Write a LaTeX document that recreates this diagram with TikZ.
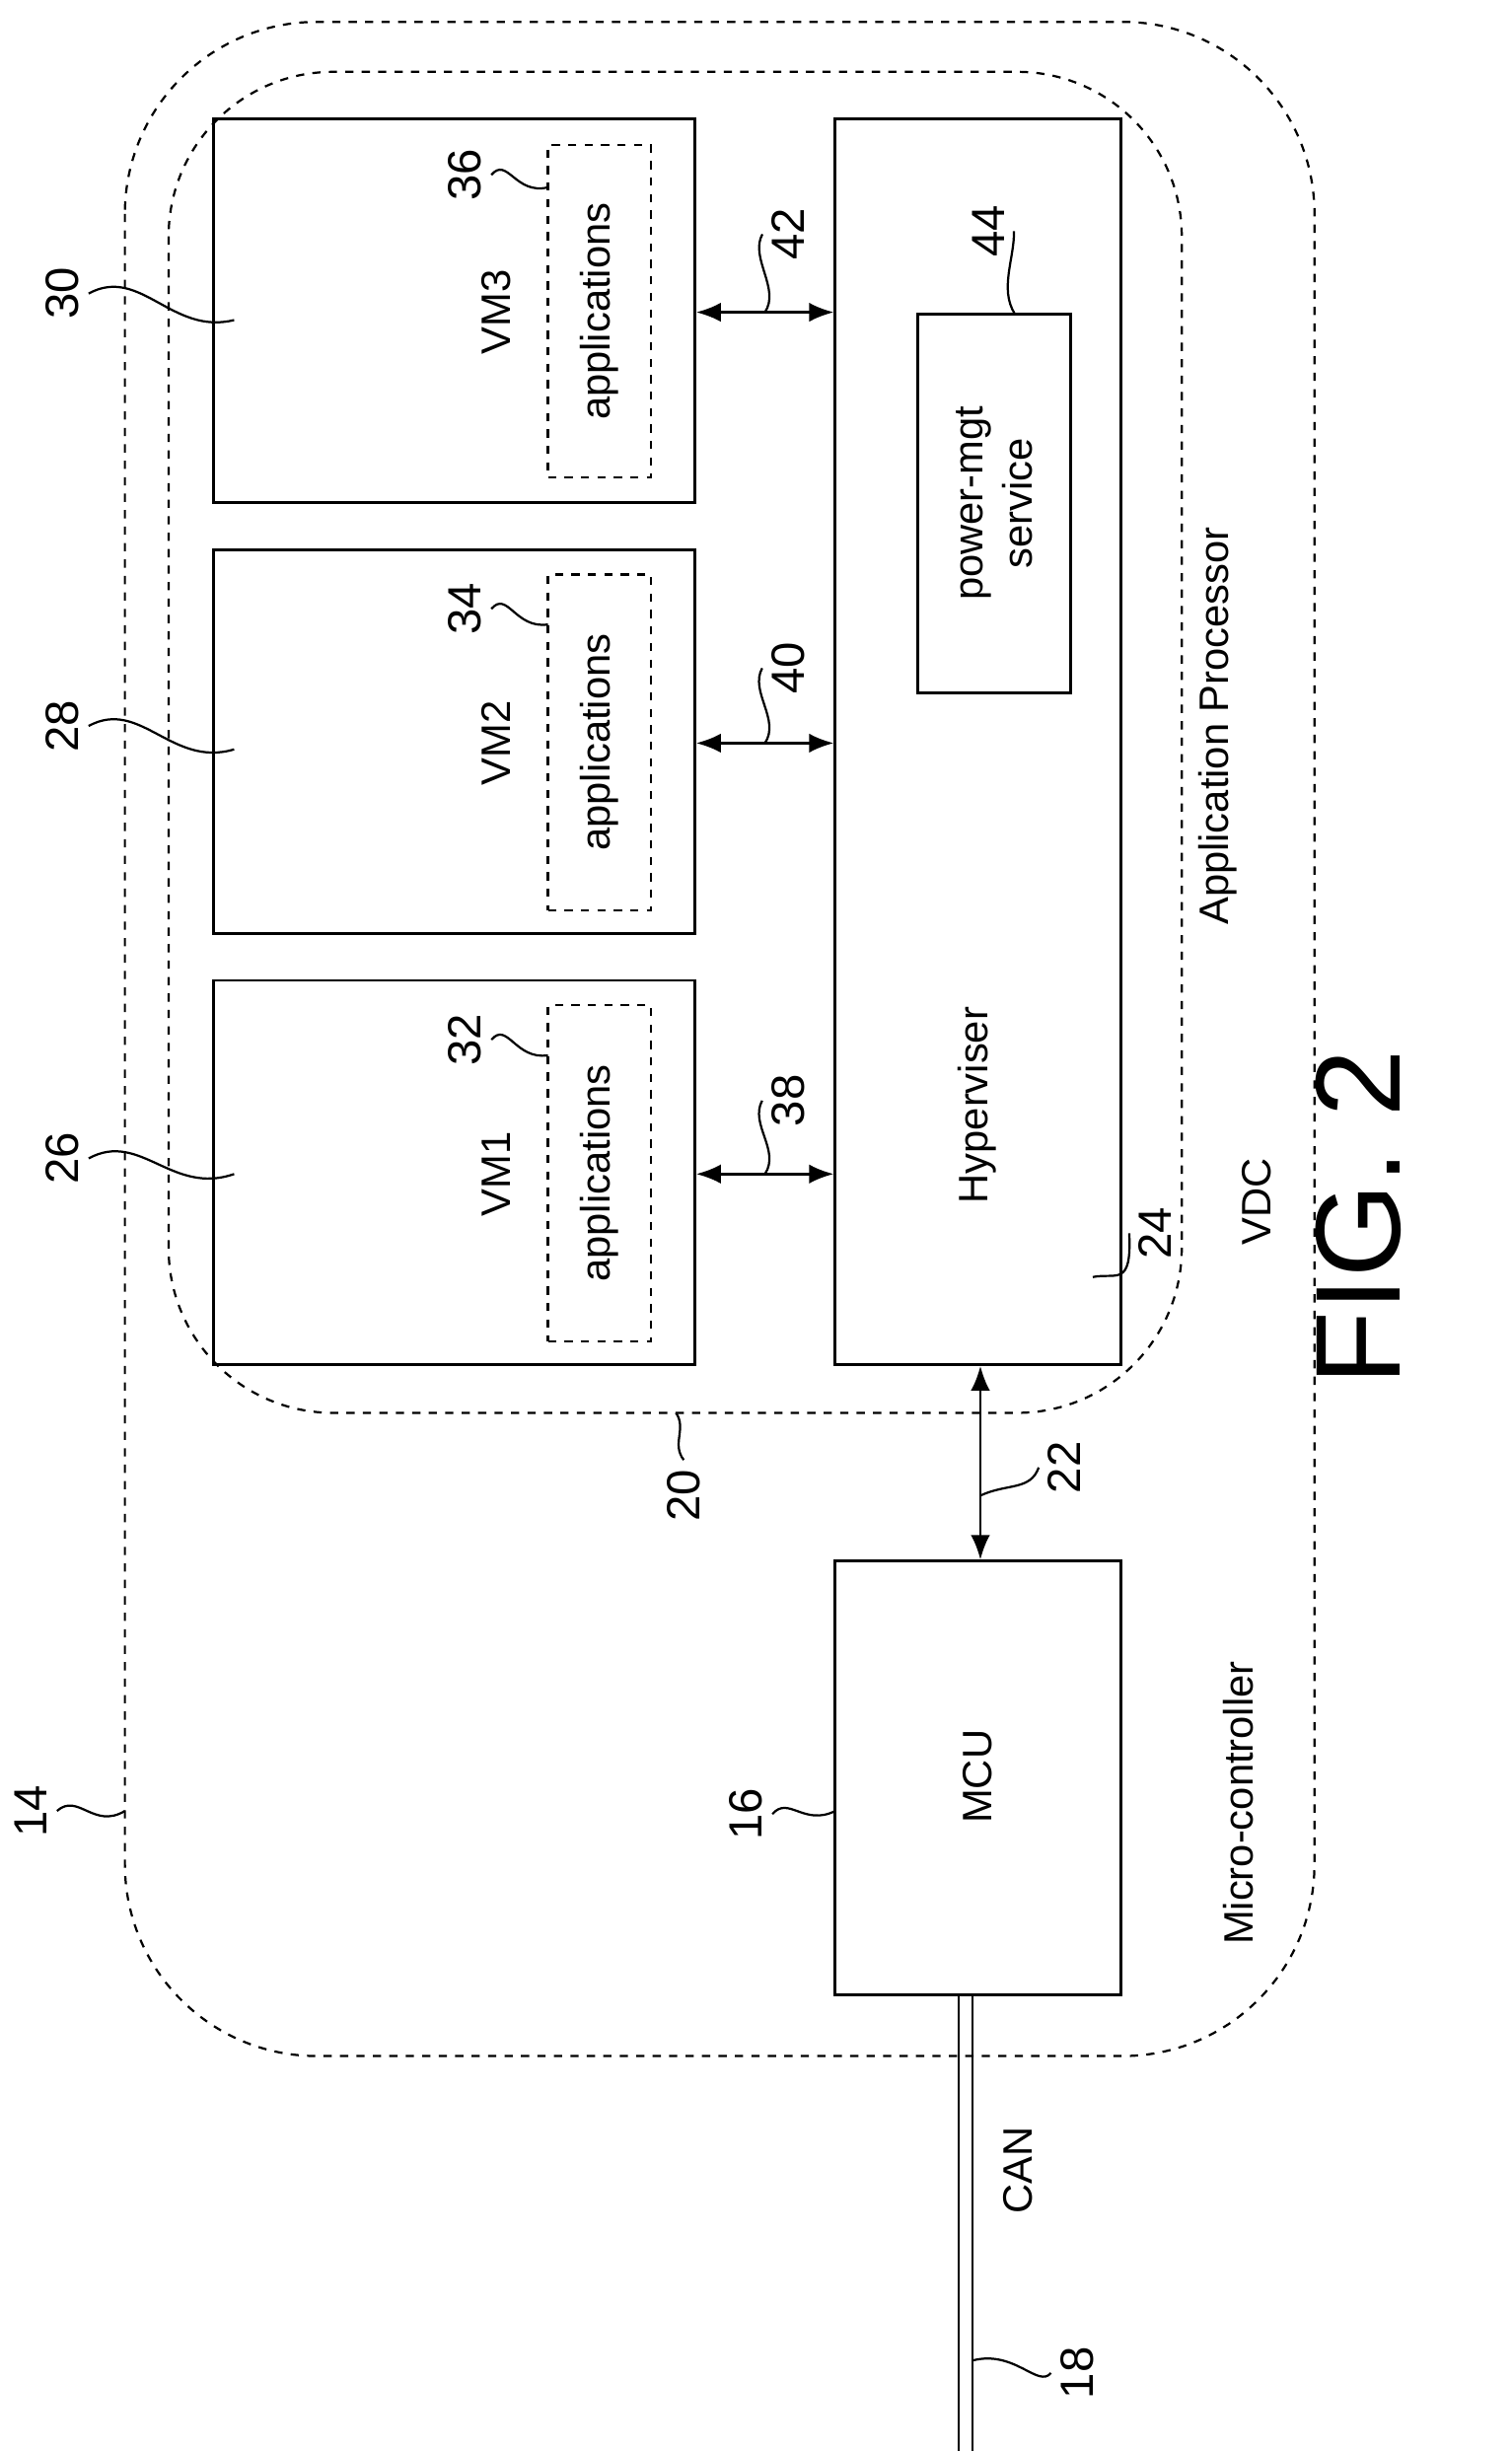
\documentclass[tikz,border=0pt]{standalone}
\usepackage{fontspec}
\setmainfont{Liberation Sans}
\usetikzlibrary{fit,arrows.meta}

\begin{document}
\begin{tikzpicture}[x=0.02cm,y=-0.02cm,
  box/.style={draw,line width=1pt,inner sep=0pt},
  dbox/.style={draw,dashed,line width=0.8pt,inner sep=0pt},
  txt/.style={rotate=90,font=\fontsize{15}{18}\selectfont,align=center},
  num/.style={rotate=90,font=\fontsize{17}{20}\selectfont},
  lead/.style={line width=0.8pt},
  dbl/.style={{Latex[length=9pt,width=7pt]}-{Latex[length=9pt,width=7pt]},line width=1pt}]
\useasboundingbox (0,0) rectangle (968,1570);
% enclosures
\draw[dashed,line width=0.8pt,rounded corners=70] (80,14) rectangle (842,1317);
\draw[dashed,line width=0.8pt,rounded corners=60] (108,46) rectangle (757,905);
% virtual machines
\node[box,fit={(137,76)(445,322)}] (vm3) {};
\node[box,fit={(137,352)(445,598)}] (vm2) {};
\node[box,fit={(137,628)(445,874)}] (vm1) {};
\node[dbox,fit={(351,93)(417,306)}] (app3) {};
\node[dbox,fit={(351,368)(417,583)}] (app2) {};
\node[dbox,fit={(351,644)(417,859)}] (app1) {};
\node[txt] at (app3) {applications};
\node[txt] at (app2) {applications};
\node[txt] at (app1) {applications};
\node[txt] at (318,200) {VM3};
\node[txt] at (318,476) {VM2};
\node[txt] at (318,752) {VM1};
% hyperviser and mcu
\node[box,fit={(535,76)(718,874)}] (hyp) {};
\node[box,fit={(588,201)(686,444)}] (pm) {};
\node[box,fit={(535,1000)(718,1278)}] (mcu) {};
\node[txt] at (626,708) {Hyperviser};
\node[txt] at (pm) {power-mgt\\service};
\node[txt] at (626,1138) {MCU};
\node[txt] at (780,465) {Application Processor};
\node[txt] at (793,1155) {Micro-controller};
\node[txt] at (805,770) {VDC};
\node[txt] at (652,1390) {CAN};
\node[rotate=90,font=\fontsize{44}{50}\selectfont] at (870,780) {FIG. 2};
% links
\draw[dbl] (vm3.east |- 0,200) -- (hyp.west |- 0,200);
\draw[dbl] (vm2.east |- 0,476) -- (hyp.west |- 0,476);
\draw[dbl] (vm1.east |- 0,752) -- (hyp.west |- 0,752);
\draw[dbl] (hyp.south -| 628,0) -- (mcu.north -| 628,0);
\draw[line width=0.8pt] (mcu.south -| 614,0) -- (614,1570);
\draw[line width=0.8pt] (mcu.south -| 623,0) -- (623,1570);
% reference numerals
\node[num] (n30) at (40,188) {30};
\node[num] (n28) at (40,465) {28};
\node[num] (n26) at (40,742) {26};
\node[num] (n36) at (298,112) {36};
\node[num] (n34) at (298,390) {34};
\node[num] (n32) at (298,666) {32};
\node[num] (n42) at (505,150) {42};
\node[num] (n40) at (505,428) {40};
\node[num] (n38) at (505,705) {38};
\node[num] (n44) at (633,148) {44};
\node[num] (n24) at (740,790) {24};
\node[num] (n20) at (438,958) {20};
\node[num] (n22) at (682,940) {22};
\node[num] (n16) at (478,1162) {16};
\node[num] (n14) at (20,1160) {14};
\node[num] (n18) at (690,1520) {18};
\draw[lead] (n30.south) .. controls (90,170) and (110,215) .. (150,205);
\draw[lead] (n28.south) .. controls (90,447) and (110,492) .. (150,480);
\draw[lead] (n26.south) .. controls (90,724) and (110,766) .. (150,752);
\draw[lead] (n36.south) .. controls (325,100) and (330,125) .. (351,120);
\draw[lead] (n34.south) .. controls (325,378) and (330,403) .. (351,400);
\draw[lead] (n32.south) .. controls (325,654) and (330,679) .. (351,676);
\draw[lead] (n42.north) .. controls (480,165) and (500,185) .. (490,200);
\draw[lead] (n40.north) .. controls (480,443) and (500,461) .. (490,476);
\draw[lead] (n38.north) .. controls (480,720) and (500,737) .. (490,752);
\draw[lead] (n44.south) .. controls (650,165) and (640,185) .. (650,201);
\draw[lead] (n24.north) .. controls (725,825) and (715,815) .. (700,818);
\draw[lead] (n20.east) .. controls (430,925) and (440,915) .. (433,905);
\draw[lead] (n22.north) .. controls (660,955) and (645,950) .. (628,958);
\draw[lead] (n16.south) .. controls (505,1150) and (515,1170) .. (535,1160);
\draw[lead] (n14.south) .. controls (50,1148) and (60,1172) .. (80,1160);
\draw[lead] (n18.north) .. controls (665,1530) and (650,1505) .. (623,1512);
\end{tikzpicture}
\end{document}
